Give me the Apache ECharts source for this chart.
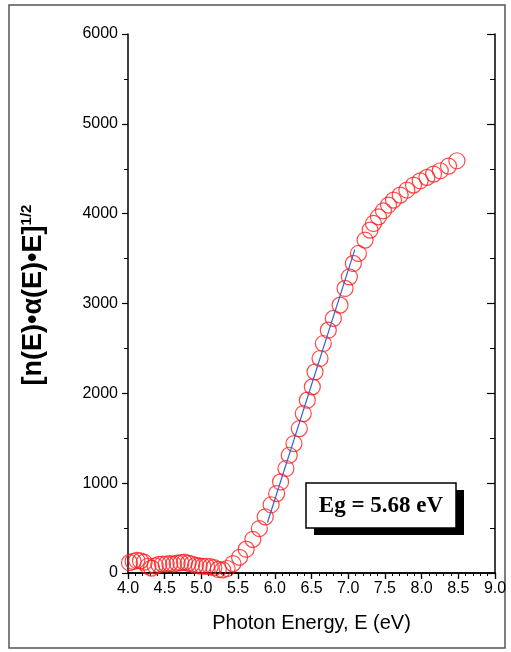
<!DOCTYPE html>
<html><head><meta charset="utf-8">
<script src="https://cdn.jsdelivr.net/npm/echarts@6/dist/echarts.min.js"></script>
<style>html,body{margin:0;padding:0;background:#fff}#c{width:511px;height:652px}</style>
</head><body><div id="c"></div>
<script>
const energy = [4.02,4.07,4.12,4.17,4.22,4.27,4.32,4.37,4.42,4.47,4.52,4.57,4.62,4.67,4.72,4.77,4.82,4.87,4.92,4.97,5.02,5.07,5.12,5.17,5.23,5.29,5.35,5.43,5.52,5.61,5.70,5.79,5.87,5.95,6.025,6.079,6.152,6.197,6.261,6.334,6.388,6.443,6.511,6.548,6.616,6.661,6.729,6.798,6.889,6.957,7.016,7.070,7.139,7.230,7.298,7.344,7.412,7.480,7.549,7.617,7.708,7.799,7.890,7.981,8.072,8.163,8.254,8.367,8.481];
const signal = [115,130,140,135,120,75,55,80,95,100,100,105,100,110,115,120,110,100,85,80,75,75,70,60,40,35,50,105,175,265,375,495,625,760,884,1014,1163,1311,1441,1608,1775,1924,2072,2239,2388,2555,2703,2834,2982,3168,3297,3446,3557,3706,3817,3891,3965,4032,4096,4151,4207,4263,4318,4366,4404,4441,4478,4530,4589];
const fitE = [5.90, 7.09];
const fitY = [562, 3600];
const xTicks = {min: 4, max: 9, step: 0.5};
const yTicks = {min: 0, max: 6000, step: 1000};
const annotation = 'Eg = 5.68 eV';

const chart = echarts.init(document.getElementById('c'));
const axisLine = {show: true, lineStyle: {color: '#000', width: 1.5}};
const lbl = {color: '#000', fontSize: 16, fontFamily: 'Liberation Sans, Arial, sans-serif'};
chart.setOption({
  animation: false,
  backgroundColor: '#fff',
  grid: {left: 128, right: 16, top: 34, bottom: 79, containLabel: false},
  xAxis: [{
    type: 'value', min: xTicks.min, max: xTicks.max, interval: xTicks.step, position: 'bottom',
    axisLine, splitLine: {show: false},
    axisTick: {show: true, inside: false, length: 6, lineStyle: {color: '#000', width: 1.2}},
    minorTick: {show: true, splitNumber: 5, length: 3, lineStyle: {color: '#000', width: 1}},
    axisLabel: Object.assign({margin: 8, formatter: v => v.toFixed(1)}, lbl),
    name: 'Photon Energy, E (eV)', nameLocation: 'middle', nameGap: 40,
    nameTextStyle: {color: '#000', fontSize: 20, fontFamily: 'Liberation Sans, Arial, sans-serif'}
  }, {
    type: 'value', min: xTicks.min, max: xTicks.max, interval: xTicks.step, position: 'top',
    axisLine, splitLine: {show: false}, axisLabel: {show: false},
    axisTick: {show: true, inside: true, length: 6, lineStyle: {color: '#000', width: 1.2}},
    minorTick: {show: true, splitNumber: 5, length: 3, lineStyle: {color: '#000', width: 1}}
  }],
  yAxis: [{
    type: 'value', min: yTicks.min, max: yTicks.max, interval: yTicks.step, position: 'left',
    axisLine, splitLine: {show: false},
    axisTick: {show: true, inside: false, length: 6, lineStyle: {color: '#000', width: 1.2}},
    minorTick: {show: true, splitNumber: 2, length: 4, lineStyle: {color: '#000', width: 1}},
    axisLabel: Object.assign({margin: 10, formatter: v => String(v)}, lbl)
  }, {
    type: 'value', min: yTicks.min, max: yTicks.max, interval: yTicks.step, position: 'right',
    axisLine, splitLine: {show: false}, axisLabel: {show: false},
    axisTick: {show: true, inside: true, length: 8, lineStyle: {color: '#000', width: 1.2}},
    minorTick: {show: true, splitNumber: 2, length: 5, lineStyle: {color: '#000', width: 1}}
  }],
  series: [{
    type: 'scatter', xAxisIndex: 0, yAxisIndex: 0,
    data: energy.map((e, i) => [e, signal[i]]),
    symbol: 'circle', symbolSize: 16,
    itemStyle: {color: 'rgba(0,0,0,0)', borderColor: '#ff1a1a', borderWidth: 1.2}
  }, {
    type: 'line', xAxisIndex: 0, yAxisIndex: 0,
    data: fitE.map((e, i) => [e, fitY[i]]),
    symbol: 'none', lineStyle: {color: '#3a5fcd', width: 1.2}, z: 3
  }],
  graphic: [
    {type: 'rect', shape: {x: 9, y: 5, width: 496, height: 643}, style: {fill: 'none', stroke: '#555', lineWidth: 1.5}, silent: true},
    {type: 'rect', shape: {x: 314, y: 490, width: 150, height: 45}, style: {fill: '#000'}, z: 10},
    {type: 'rect', shape: {x: 306, y: 483, width: 150, height: 45}, style: {fill: '#fff', stroke: '#000', lineWidth: 1.5}, z: 11},
    {type: 'text', x: 381, y: 506, z: 12, style: {text: annotation, fill: '#000', font: 'bold 23px "Liberation Serif", "Times New Roman", serif', align: 'center', verticalAlign: 'middle'}},
    {type: 'text', x: 34, y: 295, rotation: Math.PI / 2, z: 12,
     style: {text: '{a|[n(E)•α(E)•E]}{s|1/2}', align: 'center', verticalAlign: 'middle',
       rich: {a: {fontSize: 27, fontWeight: 'bold', fontFamily: 'Liberation Sans, Arial, sans-serif', fill: '#000'},
              s: {fontSize: 15, fontWeight: 'bold', fontFamily: 'Liberation Sans, Arial, sans-serif', fill: '#000', padding: [0, 0, 14, 0]}}}}
  ]
});
</script></body></html>
